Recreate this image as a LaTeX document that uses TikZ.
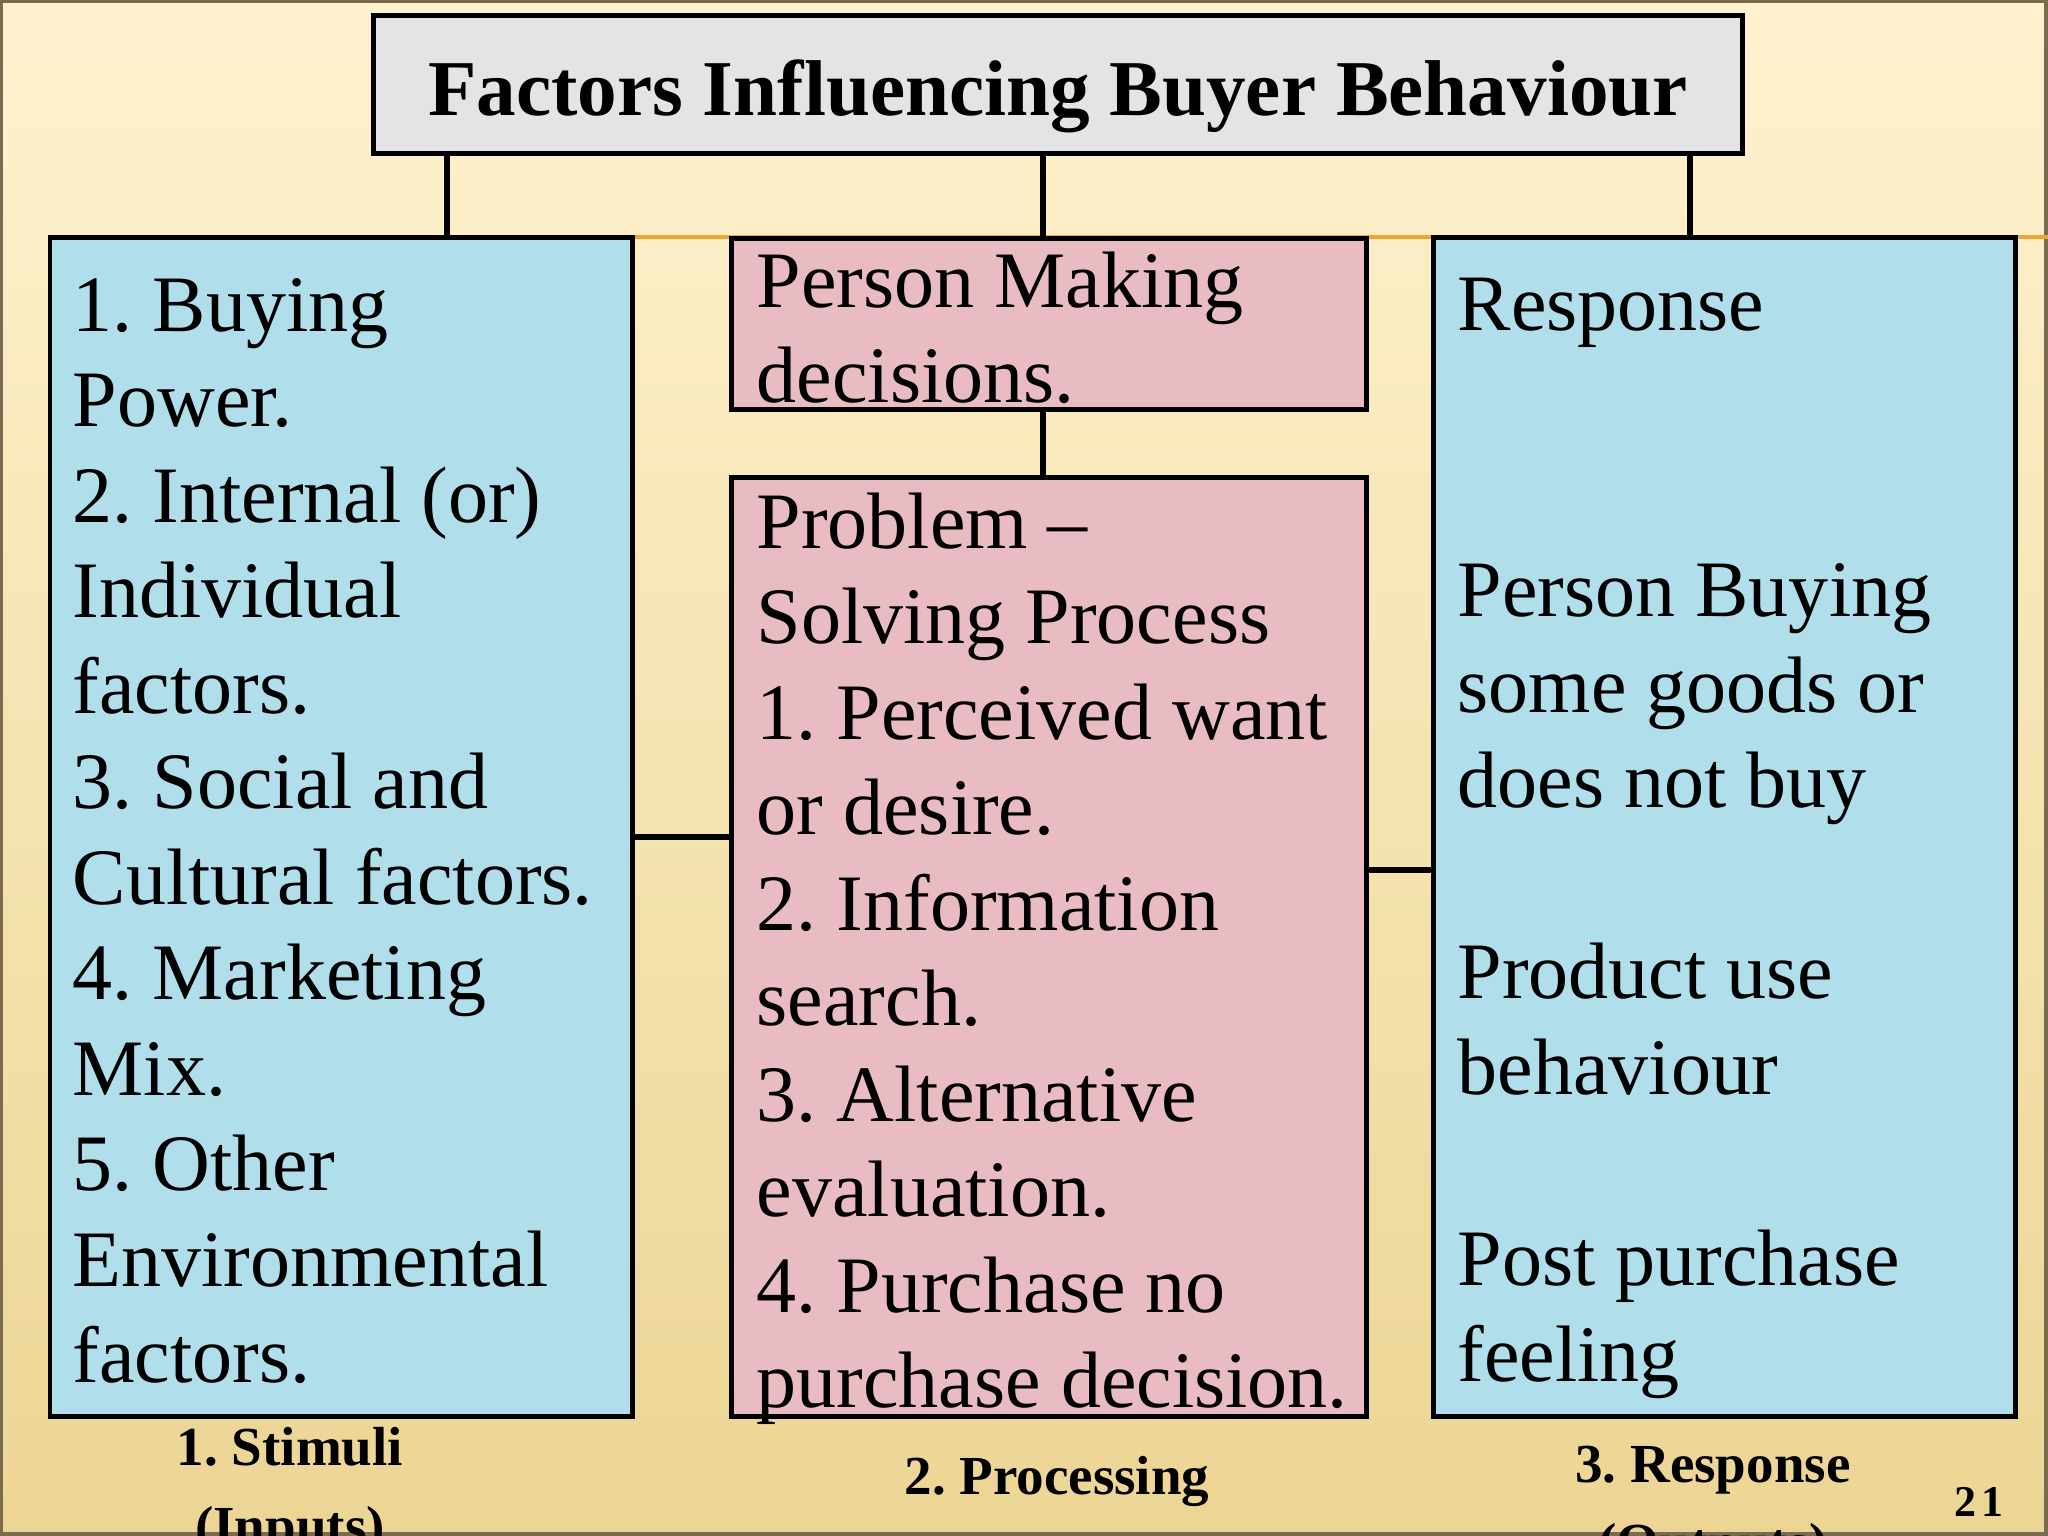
\documentclass[tikz,border=0pt]{standalone}
\usepackage{fontspec}
\setmainfont{Liberation Serif}
\definecolor{boxblue}{HTML}{B0DEEA}
\definecolor{boxpink}{HTML}{E9BCC3}
\definecolor{boxgrey}{HTML}{E2E4E6}
\definecolor{bgtop}{HTML}{FEF2CF}
\definecolor{bgmid}{HTML}{F9E7B8}
\definecolor{bgbot}{HTML}{ECD594}
\definecolor{framebrown}{HTML}{7A6A50}
\definecolor{orangeline}{HTML}{F0A530}
\tikzset{
  boxline/.style={draw=black, line width=1.42pt, inner sep=0pt, outer sep=0pt, anchor=north west},
  bluebox/.style={boxline, fill=boxblue},
  pinkbox/.style={boxline, fill=boxpink},
  greybox/.style={boxline, fill=boxgrey},
  body/.style={anchor=base west, inner sep=0pt, font=\fontsize{22.76pt}{27.17pt}\selectfont},
  conn/.style={draw=black, line width=1.5pt},
  lbl/.style={anchor=base, inner sep=0pt, font=\bfseries\fontsize{15.65pt}{18.5pt}\selectfont},
}
\begin{document}
\frenchspacing
\begin{tikzpicture}[x=0.01cm,y=-0.01cm]
\useasboundingbox (0,0) rectangle (2048,1536);
% background
\shade[top color=bgtop, middle color=bgmid, bottom color=bgbot] (0,0) rectangle (2048,1536);
\draw[framebrown, line width=0.9pt] (1,1) rectangle (2046,1534);
\draw[orangeline, line width=0.9pt] (447,237) -- (2048,237);

% boxes
\node[greybox, minimum width=13.69cm, minimum height=1.38cm] (title) at (373,15) {};
\node[bluebox, minimum width=5.82cm, minimum height=11.79cm] (left) at (50,237) {};
\node[pinkbox, minimum width=6.35cm, minimum height=1.71cm] (midtop) at (731,238) {};
\node[pinkbox, minimum width=6.35cm, minimum height=9.39cm] (midlow) at (731,477) {};
\node[bluebox, minimum width=5.82cm, minimum height=11.79cm] (right) at (1433,237) {};

% connector x positions
\coordinate (cl) at (447,0);
\coordinate (cm) at (1043,0);
\coordinate (cr) at (1690,0);
\coordinate (hl) at (0,837);
\coordinate (hr) at (0,870);

\draw[conn] (cl |- title.south) -- (cl |- left.north);
\draw[conn] (cm |- title.south) -- (cm |- midtop.north);
\draw[conn] (cr |- title.south) -- (cr |- right.north);
\draw[conn] (cm |- midtop.south) -- (cm |- midlow.north);
\draw[conn] (left.east |- hl) -- (midlow.west |- hl);
\draw[conn] (midlow.east |- hr) -- (right.west |- hr);

% title text
\node[anchor=base, inner sep=0pt, font=\bfseries\fontsize{22.5pt}{26pt}\selectfont] (ttext) at (1058,115) {Factors Influencing Buyer Behaviour};

% box texts
\node[body] (ltext) at (72,331) {\parbox[t]{8cm}{\raggedright
1. Buying\\
Power.\\
2. Internal (or)\\
Individual\\
factors.\\
3. Social and\\
Cultural factors.\\
4. Marketing\\
Mix.\\
5. Other\\
Environmental\\
factors.}};

\node[body] (mttext) at (756,307) {\parbox[t]{8cm}{\raggedright
Person Making\\
decisions.}};

\node[body] (mltext) at (756,548) {\parbox[t]{8cm}{\raggedright
Problem --\\
Solving Process\\
1. Perceived want\\
or desire.\\
2. Information\\
search.\\
3. Alternative\\
evaluation.\\
4. Purchase no\\
purchase decision.}};

\node[body] (rtext) at (1457,330) {\parbox[t]{8cm}{\raggedright
Response\\
\mbox{}\\
\mbox{}\\
Person Buying\\
some goods or\\
does not buy\\
\mbox{}\\
Product use\\
behaviour\\
\mbox{}\\
Post purchase\\
feeling}};

% bottom labels
\node[lbl] (l1) at (290,1465) {\parbox[t]{5cm}{\centering 1. Stimuli\\[4.2pt](Inputs)}};
\node[lbl] (l2) at (1057,1494) {2. Processing};
\node[lbl] (l3) at (1713,1482) {\parbox[t]{5cm}{\centering 3. Response\\[4.2pt](Outputs)}};
\node[anchor=base, inner sep=0pt, font=\bfseries\fontsize{12.5pt}{14pt}\selectfont] (pnum) at (1979,1516) {2\hspace{1.5pt}1};
\end{tikzpicture}
\end{document}
